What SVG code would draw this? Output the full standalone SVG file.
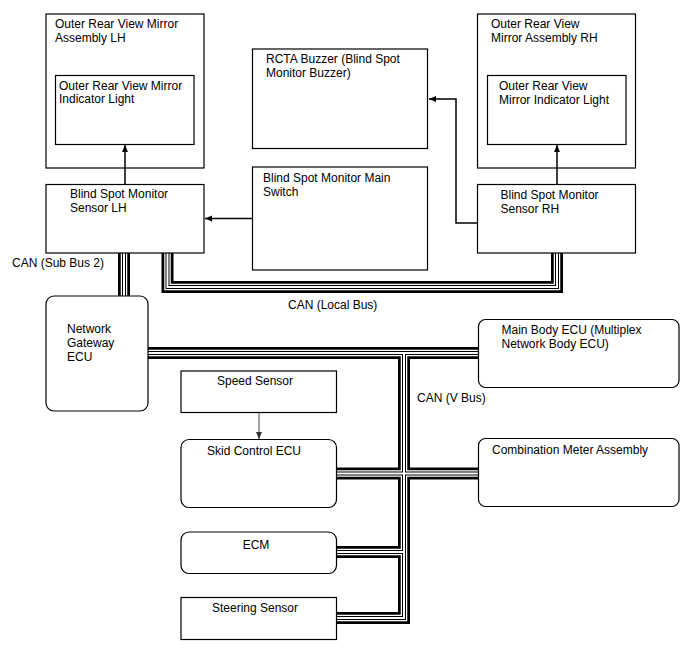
<svg xmlns="http://www.w3.org/2000/svg" width="688" height="658" viewBox="0 0 688 658">
<defs>
<style>
.box{fill:#fff;stroke:#000;stroke-width:1.2}
.t{font-family:"Liberation Sans",Arial,sans-serif;font-size:12px;fill:#000}
.c{text-anchor:middle}
.b1{fill:none;stroke:#000;stroke-width:12;stroke-linejoin:miter}
.b2{fill:none;stroke:#fff;stroke-width:6.5;stroke-linejoin:miter}
.b3{fill:none;stroke:#000;stroke-width:4;stroke-linejoin:miter}
.b4{fill:none;stroke:#fff;stroke-width:2;stroke-linejoin:miter}
.arr{fill:none;stroke:#000;stroke-width:1.5;marker-end:url(#ah)}
.arrg{fill:none;stroke:#444;stroke-width:1;marker-end:url(#ahg)}
</style>
<marker id="ah" markerWidth="8" markerHeight="8" refX="7" refY="4" orient="auto" markerUnits="userSpaceOnUse">
<path d="M0,1 L7,4 L0,7 Z" fill="#000"/>
</marker>
<marker id="ahg" markerWidth="8" markerHeight="8" refX="7" refY="4" orient="auto" markerUnits="userSpaceOnUse">
<path d="M0,1 L7,4 L0,7 Z" fill="#333"/>
</marker>
<g id="busshape">
<path d="M124,253 V296"/>
<path d="M167.5,253 V287 H557 V253"/>
<path d="M148,353 H478"/>
<path d="M404,353 V618 H337"/>
<path d="M337,473.5 H478"/>
<path d="M337,552 H404"/>
</g>
</defs>

<g id="buses">
<use href="#busshape" class="b1"/>
<use href="#busshape" class="b2"/>
<use href="#busshape" class="b3"/>
<use href="#busshape" class="b4"/>
</g>

<g id="mirror-lh">
<rect class="box" x="46" y="14" width="158" height="154"/>
<text class="t" x="55" y="27.5">Outer Rear View Mirror</text>
<text class="t" x="55" y="41.5">Assembly LH</text>
</g>
<g id="indicator-lh">
<rect class="box" x="55.5" y="75.5" width="138.5" height="69"/>
<text class="t" x="59" y="89.5">Outer Rear View Mirror</text>
<text class="t" x="59" y="103">Indicator Light</text>
</g>
<g id="sensor-lh">
<rect class="box" x="46" y="184.5" width="158" height="68.5"/>
<text class="t" x="70" y="197.5">Blind Spot Monitor</text>
<text class="t" x="70" y="211.5">Sensor LH</text>
</g>
<g id="buzzer">
<rect class="box" x="252.5" y="49" width="175" height="99.5"/>
<text class="t" x="266" y="62.5">RCTA Buzzer (Blind Spot</text>
<text class="t" x="266" y="76.5">Monitor Buzzer)</text>
</g>
<g id="main-switch">
<rect class="box" x="252.5" y="167" width="175" height="103"/>
<text class="t" x="263" y="181.5">Blind Spot Monitor Main</text>
<text class="t" x="263" y="195.5">Switch</text>
</g>
<g id="mirror-rh">
<rect class="box" x="477.5" y="14" width="158" height="154"/>
<text class="t" x="491" y="27.5">Outer Rear View</text>
<text class="t" x="491" y="41.5">Mirror Assembly RH</text>
</g>
<g id="indicator-rh">
<rect class="box" x="487.5" y="75.5" width="138.5" height="69"/>
<text class="t" x="499" y="89.5">Outer Rear View</text>
<text class="t" x="499" y="103.5">Mirror Indicator Light</text>
</g>
<g id="sensor-rh">
<rect class="box" x="477.5" y="184.5" width="158" height="68.5"/>
<text class="t" x="500.5" y="198.5">Blind Spot Monitor</text>
<text class="t" x="500.5" y="212.5">Sensor RH</text>
</g>
<g id="gateway">
<rect class="box" x="46" y="296" width="102" height="115" rx="8" ry="8"/>
<text class="t" x="67" y="332.5">Network</text>
<text class="t" x="67" y="346.5">Gateway</text>
<text class="t" x="67" y="360.5">ECU</text>
</g>
<g id="main-body">
<rect class="box" x="478.5" y="319.5" width="200.5" height="68" rx="7" ry="7"/>
<text class="t" x="501.5" y="334">Main Body ECU (Multiplex</text>
<text class="t" x="501.5" y="348">Network Body ECU)</text>
</g>
<g id="combination-meter">
<rect class="box" x="478.5" y="438.5" width="200.5" height="68" rx="7" ry="7"/>
<text class="t" x="492" y="454">Combination Meter Assembly</text>
</g>
<g id="speed-sensor">
<rect class="box" x="181" y="371" width="155.5" height="41.5"/>
<text class="t c" x="255" y="385">Speed Sensor</text>
</g>
<g id="skid-control">
<rect class="box" x="181" y="439.5" width="155.5" height="68" rx="8" ry="8"/>
<text class="t c" x="254" y="455">Skid Control ECU</text>
</g>
<g id="ecm">
<rect class="box" x="181" y="532" width="155.5" height="41.5" rx="8" ry="8"/>
<text class="t c" x="256" y="548.5">ECM</text>
</g>
<g id="steering-sensor">
<rect class="box" x="181" y="597.5" width="155.5" height="42"/>
<text class="t c" x="255" y="611.5">Steering Sensor</text>
</g>

<g id="connectors">
<path class="arr" d="M125,184 V145"/>
<path class="arr" d="M557,184 V145"/>
<path class="arr" d="M252,218.5 H205"/>
<path class="arr" d="M477,223 H456 V99 H429"/>
<path class="arrg" d="M259,413 V439"/>
</g>

<g id="labels">
<text class="t" x="12" y="267">CAN (Sub Bus 2)</text>
<text class="t" x="288" y="308.5">CAN (Local Bus)</text>
<text class="t" x="417" y="402">CAN (V Bus)</text>
</g>
</svg>
